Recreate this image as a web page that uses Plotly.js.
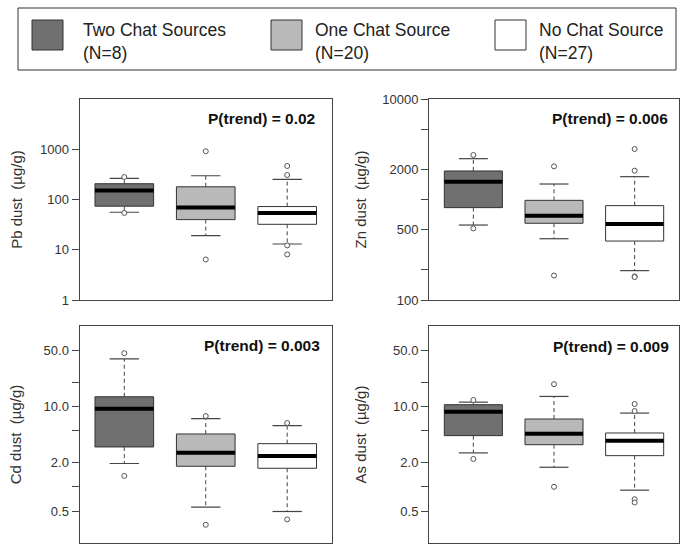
<!DOCTYPE html>
<html><head><meta charset="utf-8">
<script src="https://cdn.plot.ly/plotly-3.0.1.min.js"></script>
<style>html,body{margin:0;padding:0;background:#fff}#chart{width:687px;height:550px}</style>
</head><body><div id="chart"></div>
<script>
// ---------------- data ----------------
const groups = ['Two Chat Sources', 'One Chat Source', 'No Chat Source'];
const groupN = [8, 20, 27];

const pbQ1 = [73.6, 39.8, 32.1];
const pbMed = [151, 69.2, 54.1];
const pbQ3 = [206, 179, 72.4];
const pbLo = [55.8, 19.1, 13.0];
const pbHi = [263, 297, 251];
const pbOutGroup = [1, 1, 2, 2, 3, 3, 3, 3];
const pbOut = [280, 54, 912, 6.4, 464, 307, 12.2, 8.07];

const znQ1 = [830, 580, 386];
const znMed = [1503, 690, 570];
const znQ3 = [1922, 981, 869];
const znLo = [557, 407, 196];
const znHi = [2547, 1426, 1687];
const znOutGroup = [1, 1, 2, 2, 3, 3, 3, 3];
const znOut = [2773, 516, 2137, 175, 3178, 1936, 172, 169];

const cdQ1 = [3.13, 1.80, 1.70];
const cdMed = [9.36, 2.66, 2.42];
const cdQ3 = [13.18, 4.54, 3.44];
const cdLo = [1.95, 0.558, 0.493];
const cdHi = [39, 7.03, 5.75];
const cdOutGroup = [1, 1, 2, 2, 3, 3];
const cdOut = [45.9, 1.367, 7.59, 0.337, 6.21, 0.393];

const asQ1 = [4.33, 3.34, 2.44];
const asMed = [8.59, 4.58, 3.75];
const asQ3 = [10.5, 6.97, 4.67];
const asLo = [2.64, 1.75, 0.908];
const asHi = [11.3, 13.3, 8.26];
const asOutGroup = [1, 1, 2, 2, 3, 3, 3, 3];
const asOut = [12.0, 2.22, 18.9, 1.0, 10.7, 8.75, 0.701, 0.638];

const pTrend = ['0.02', '0.006', '0.003', '0.009'];
const yTitles = ['Pb dust\u00a0 (\u00b5g/g)', 'Zn dust\u00a0 (\u00b5g/g)', 'Cd dust\u00a0 (\u00b5g/g)', 'As dust\u00a0 (\u00b5g/g)'];

const pbTickVals = [1, 10, 100, 1000];
const pbTickText = ['1', '10', '100', '1000'];
const znTickVals = [100, 200, 500, 1000, 2000, 5000, 10000];
const znTickText = ['100', '', '500', '', '2000', '', '10000'];
const smallTickVals = [0.5, 1, 2, 5, 10, 20, 50];
const smallTickText = ['0.5', '', '2.0', '', '10.0', '', '50.0'];

// ---------------- styles ----------------
const W = 687, H = 550;
const FONT = 'Liberation Sans, Arial, Helvetica, sans-serif';
const fills = ['#707070', '#b9b9b9', '#ffffff'];
const BOXW = 0.72, CAPW = 0.36;
const px = v => v / W;
const py = v => 1 - v / H;

const traces = [];
function panel(k, q1, med, q3, lo, hi, outG, out) {
  const xa = 'x' + (k === 1 ? '' : k), ya = 'y' + (k === 1 ? '' : k);
  groups.forEach((g, i) => {
    traces.push({
      type: 'box', name: g, x: [i + 1], q1: [q1[i]], median: [med[i]], q3: [q3[i]],
      lowerfence: [q1[i]], upperfence: [q3[i]], width: BOXW, whiskerwidth: 0,
      fillcolor: fills[i], line: {color: '#333', width: 1}, boxpoints: false,
      xaxis: xa, yaxis: ya, showlegend: false, hoverinfo: 'skip'
    });
  });
  const wx = [], wy = [], cx = [], cy = [], mx = [], my = [];
  groups.forEach((g, i) => {
    const c = i + 1;
    wx.push(c, c, null, c, c, null); wy.push(q3[i], hi[i], null, q1[i], lo[i], null);
    cx.push(c - CAPW / 2, c + CAPW / 2, null, c - CAPW / 2, c + CAPW / 2, null);
    cy.push(hi[i], hi[i], null, lo[i], lo[i], null);
    mx.push(c - BOXW / 2, c + BOXW / 2, null); my.push(med[i], med[i], null);
  });
  traces.push({type: 'scatter', mode: 'lines', x: wx, y: wy, xaxis: xa, yaxis: ya,
    line: {color: '#444', width: 1, dash: '4px,3px'}, showlegend: false, hoverinfo: 'skip'});
  traces.push({type: 'scatter', mode: 'lines', x: cx, y: cy, xaxis: xa, yaxis: ya,
    line: {color: '#444', width: 1.2}, showlegend: false, hoverinfo: 'skip'});
  traces.push({type: 'scatter', mode: 'lines', x: mx, y: my, xaxis: xa, yaxis: ya,
    line: {color: '#000', width: 4}, showlegend: false, hoverinfo: 'skip'});
  traces.push({type: 'scatter', mode: 'markers', x: outG, y: out, xaxis: xa, yaxis: ya,
    marker: {symbol: 'circle', size: 5, color: '#fff', line: {color: '#555', width: 1}},
    showlegend: false, hoverinfo: 'skip'});
}
panel(1, pbQ1, pbMed, pbQ3, pbLo, pbHi, pbOutGroup, pbOut);
panel(2, znQ1, znMed, znQ3, znLo, znHi, znOutGroup, znOut);
panel(3, cdQ1, cdMed, cdQ3, cdLo, cdHi, cdOutGroup, cdOut);
panel(4, asQ1, asMed, asQ3, asLo, asHi, asOutGroup, asOut);

const xDomL = [px(79.5), px(332)], xDomR = [px(429), px(679)];
const yDomT = [py(300), py(99)], yDomB = [py(543), py(326)];

function xAxis(dom) {
  return {domain: dom, range: [0.45, 3.55], showline: true, mirror: true, linecolor: '#444', linewidth: 1,
    ticks: '', showticklabels: false, showgrid: false, zeroline: false, fixedrange: true};
}
function yAxis(dom, range, tv, tt, title, standoff) {
  return {domain: dom, type: 'log', range: range, tickvals: tv, ticktext: tt, ticks: 'outside', ticklen: 7,
    tickcolor: '#444', tickwidth: 1, showline: true, mirror: true, linecolor: '#444', linewidth: 1,
    showgrid: false, zeroline: false, fixedrange: true,
    tickfont: {family: FONT, size: 13, color: '#333'},
    title: {text: title, font: {family: FONT, size: 15, color: '#333'}, standoff: standoff}};
}

const annotations = [];
const pPos = [[317, 119], [670, 119], [322, 345], [671, 346]];
pTrend.forEach((p, i) => {
  annotations.push({xref: 'paper', yref: 'paper', x: px(pPos[i][0]), y: py(pPos[i][1]),
    xanchor: 'right', yanchor: 'middle', showarrow: false, text: '<b>P(trend) = ' + p + '</b>',
    font: {family: FONT, size: 15.5, color: '#111'}});
});

// legend drawn as shapes + text
const shapes = [{type: 'rect', xref: 'paper', yref: 'paper', x0: px(18), x1: px(676), y0: py(70), y1: py(8),
  line: {color: '#333', width: 1}, fillcolor: 'rgba(0,0,0,0)'}];
const swX = [32, 271, 495], txX = [81, 313, 537];
groups.forEach((g, i) => {
  shapes.push({type: 'rect', xref: 'paper', yref: 'paper', x0: px(swX[i]), x1: px(swX[i] + 31),
    y0: py(50), y1: py(20), line: {color: '#333', width: 1}, fillcolor: fills[i]});
  annotations.push({xref: 'paper', yref: 'paper', x: px(txX[i]), y: py(41.5), xanchor: 'left', yanchor: 'middle',
    align: 'left', showarrow: false, text: g + '<br>(N=' + groupN[i] + ')',
    font: {family: FONT, size: 17.5, color: '#222'}});
});

const layout = {
  width: W, height: H, margin: {l: 0, r: 0, t: 0, b: 0}, paper_bgcolor: '#fff', plot_bgcolor: '#fff',
  showlegend: false, boxmode: 'overlay',
  xaxis: xAxis(xDomL), xaxis2: xAxis(xDomR), xaxis3: xAxis(xDomL), xaxis4: xAxis(xDomR),
  yaxis: Object.assign(yAxis(yDomT, [0, 4], pbTickVals, pbTickText, yTitles[0], 13), {anchor: 'x'}),
  yaxis2: Object.assign(yAxis(yDomT, [2, 4], znTickVals, znTickText, yTitles[1], 11), {anchor: 'x2'}),
  yaxis3: Object.assign(yAxis(yDomB, [Math.log10(0.2), 2], smallTickVals, smallTickText, yTitles[2], 18), {anchor: 'x3'}),
  yaxis4: Object.assign(yAxis(yDomB, [Math.log10(0.2), 2], smallTickVals, smallTickText, yTitles[3], 22), {anchor: 'x4'}),
  annotations: annotations, shapes: shapes
};
layout.xaxis.anchor = 'y'; layout.xaxis2.anchor = 'y2'; layout.xaxis3.anchor = 'y3'; layout.xaxis4.anchor = 'y4';

Plotly.newPlot('chart', traces, layout, {staticPlot: true, displayModeBar: false});
</script>
</body></html>
